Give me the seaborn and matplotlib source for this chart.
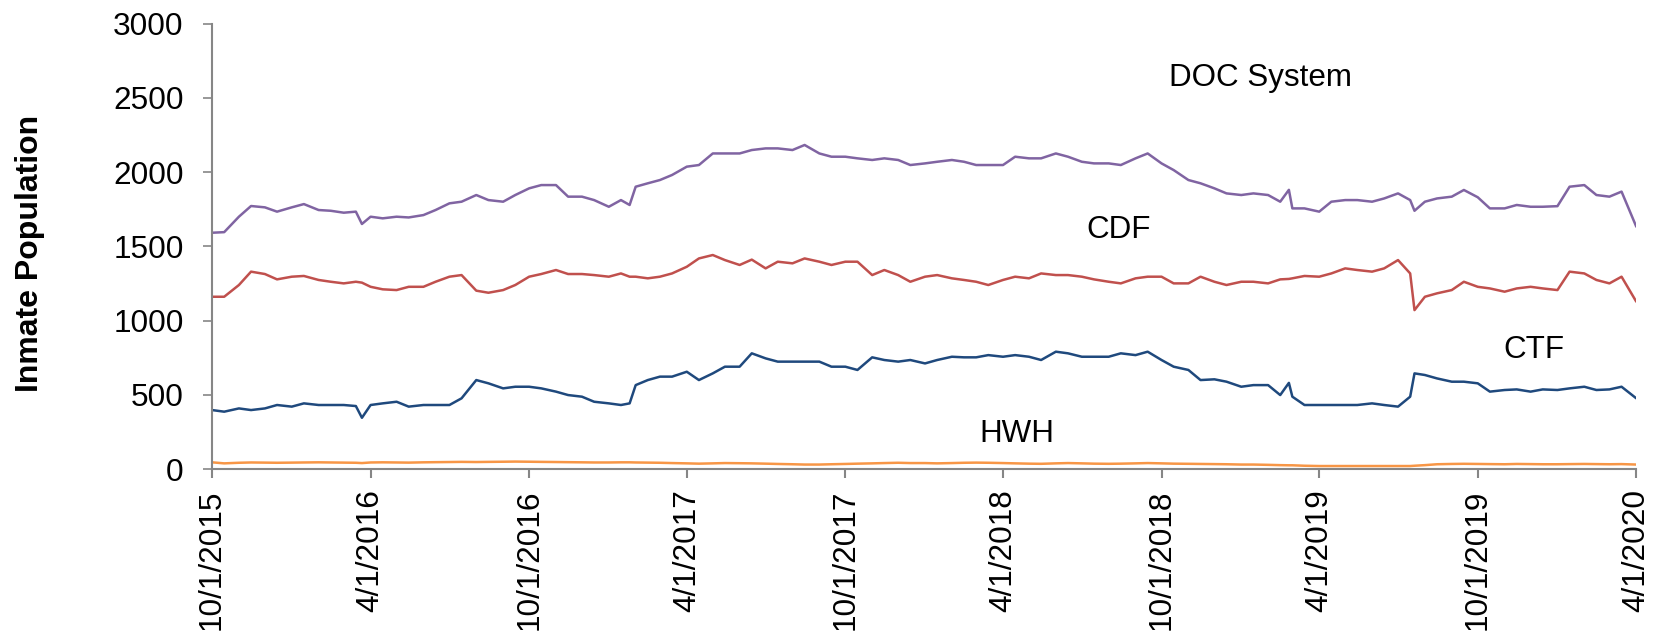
import pandas as pd
import seaborn as sns
import matplotlib
matplotlib.use("Agg")
import matplotlib.pyplot as plt

# semi-monthly readings, plus a few extra days where the lines jump
dates = [
    "2015-10-01", "2015-10-15", "2015-11-01", "2015-11-15", "2015-12-01", "2015-12-15",
    "2016-01-01", "2016-01-15", "2016-02-01", "2016-02-15", "2016-03-01", "2016-03-15", "2016-03-22",
    "2016-04-01", "2016-04-15", "2016-05-01", "2016-05-15", "2016-06-01", "2016-06-15",
    "2016-07-01", "2016-07-15", "2016-08-01", "2016-08-15", "2016-09-01", "2016-09-15",
    "2016-10-01", "2016-10-15", "2016-11-01", "2016-11-15", "2016-12-01", "2016-12-15",
    "2017-01-01", "2017-01-15", "2017-01-25", "2017-02-01", "2017-02-15", "2017-03-01", "2017-03-15",
    "2017-04-01", "2017-04-15", "2017-05-01", "2017-05-15", "2017-06-01", "2017-06-15",
    "2017-07-01", "2017-07-15", "2017-08-01", "2017-08-15", "2017-09-01", "2017-09-15",
    "2017-10-01", "2017-10-15", "2017-11-01", "2017-11-15", "2017-12-01", "2017-12-15",
    "2018-01-01", "2018-01-15", "2018-02-01", "2018-02-15", "2018-03-01", "2018-03-15",
    "2018-04-01", "2018-04-15", "2018-05-01", "2018-05-15", "2018-06-01", "2018-06-15",
    "2018-07-01", "2018-07-15", "2018-08-01", "2018-08-15", "2018-09-01", "2018-09-15",
    "2018-10-01", "2018-10-15", "2018-11-01", "2018-11-15", "2018-12-01", "2018-12-15",
    "2019-01-01", "2019-01-15", "2019-02-01", "2019-02-15", "2019-02-25", "2019-03-01", "2019-03-15",
    "2019-04-01", "2019-04-15", "2019-05-01", "2019-05-15", "2019-06-01", "2019-06-15",
    "2019-07-01", "2019-07-15", "2019-07-20", "2019-08-01", "2019-08-15", "2019-09-01", "2019-09-15",
    "2019-10-01", "2019-10-15", "2019-11-01", "2019-11-15", "2019-12-01", "2019-12-15",
    "2020-01-01", "2020-01-15", "2020-02-01", "2020-02-15", "2020-03-01", "2020-03-15", "2020-04-01",
]

doc_system = [
    1591, 1595, 1699, 1771, 1762, 1733,
    1762, 1784, 1744, 1739, 1726, 1733, 1650,
    1699, 1688, 1699, 1694, 1710, 1744,
    1789, 1800, 1845, 1811, 1800, 1845,
    1890, 1912, 1912, 1834, 1834, 1811,
    1766, 1811, 1778, 1901, 1924, 1946, 1980,
    2036, 2047, 2125, 2125, 2125, 2148,
    2159, 2159, 2148, 2182, 2125, 2103,
    2103, 2092, 2081, 2092, 2081, 2047,
    2058, 2069, 2081, 2069, 2047, 2047,
    2047, 2103, 2092, 2092, 2125, 2103,
    2069, 2058, 2058, 2047, 2092, 2125,
    2058, 2013, 1946, 1924, 1890, 1856,
    1845, 1856, 1845, 1800, 1880, 1755, 1755,
    1733, 1800, 1811, 1811, 1800, 1822,
    1856, 1811, 1739, 1800, 1822, 1834, 1879,
    1830, 1755, 1755, 1778, 1766, 1766,
    1770, 1901, 1912, 1845, 1834, 1868, 1632,
]

cdf = [
    1160, 1160, 1239, 1329, 1313, 1277,
    1295, 1300, 1273, 1261, 1250, 1261, 1255,
    1227, 1210, 1205, 1227, 1227, 1261,
    1295, 1306, 1201, 1187, 1205, 1239,
    1295, 1313, 1340, 1313, 1313, 1306,
    1295, 1317, 1295, 1295, 1284, 1295, 1317,
    1362, 1418, 1441, 1407, 1374, 1410,
    1351, 1396, 1385, 1418, 1396, 1374,
    1396, 1396, 1306, 1340, 1306, 1261,
    1295, 1306, 1284, 1273, 1261, 1239,
    1273, 1295, 1284, 1317, 1306, 1306,
    1295, 1277, 1261, 1250, 1284, 1295,
    1295, 1250, 1250, 1295, 1261, 1239,
    1261, 1261, 1250, 1277, 1280, 1284, 1300,
    1295, 1317, 1351, 1340, 1329, 1351,
    1407, 1317, 1070, 1160, 1183, 1205, 1261,
    1227, 1216, 1194, 1216, 1227, 1216,
    1205, 1329, 1317, 1273, 1250, 1295, 1127,
]

ctf = [
    397, 386, 408, 397, 408, 431,
    420, 442, 431, 431, 431, 424, 345,
    431, 442, 453, 420, 431, 431,
    431, 476, 599, 577, 543, 554,
    554, 543, 521, 498, 487, 453,
    442, 431, 442, 565, 599, 622, 622,
    655, 599, 644, 689, 689, 779,
    745, 723, 723, 723, 723, 689,
    689, 667, 752, 734, 723, 734,
    711, 734, 756, 752, 752, 767,
    756, 767, 756, 734, 790, 779,
    756, 756, 756, 779, 767, 790,
    734, 689, 667, 599, 604, 588,
    554, 565, 565, 498, 580, 487, 431,
    431, 431, 431, 431, 442, 431,
    420, 487, 644, 633, 610, 588, 588,
    577, 521, 532, 536, 521, 536,
    532, 543, 554, 532, 536, 554, 476,
]

hwh = [
    45, 38, 42, 44, 43, 42,
    43, 44, 45, 44, 43, 42, 40,
    44, 45, 44, 43, 45, 46,
    47, 48, 47, 48, 49, 50,
    49, 48, 47, 46, 45, 44,
    44, 45, 45, 44, 43, 42, 40,
    38, 36, 38, 40, 39, 38,
    36, 34, 32, 30, 30, 32,
    34, 36, 38, 40, 42, 40,
    40, 38, 40, 42, 43, 42,
    40, 38, 36, 35, 38, 40,
    38, 36, 35, 36, 38, 40,
    38, 36, 35, 34, 33, 32,
    30, 30, 28, 26, 25, 25, 22,
    20, 20, 20, 20, 20, 20,
    20, 20, 22, 26, 32, 34, 35,
    34, 33, 32, 34, 33, 32,
    32, 33, 34, 33, 32, 33, 30,
]

series_names = ["DOC System", "CDF", "CTF", "HWH"]
series_colors = ["#8064A2", "#C0504D", "#1F497D", "#F79646"]

xtick_labels = ["10/1/2015", "4/1/2016", "10/1/2016", "4/1/2017", "10/1/2017",
                "4/1/2018", "10/1/2018", "4/1/2019", "10/1/2019", "4/1/2020"]
yticks = [0, 500, 1000, 1500, 2000, 2500, 3000]

# label positions (date, value)
label_dates = ["2019-01-23", "2018-08-12", "2019-12-05", "2018-04-17"]
label_values = [2579, 1556, 747, 182]

df = pd.DataFrame({"date": pd.to_datetime(dates), "DOC System": doc_system,
                   "CDF": cdf, "CTF": ctf, "HWH": hwh})
long_df = df.melt(id_vars="date", var_name="facility", value_name="population")

sns.set_style("white")
plt.rcParams["font.family"] = ["Liberation Sans", "DejaVu Sans"]
plt.rcParams["text.color"] = "black"
plt.rcParams["axes.labelcolor"] = "black"
plt.rcParams["xtick.labelcolor"] = "black"
plt.rcParams["ytick.labelcolor"] = "black"

fig = plt.figure(figsize=(16.58, 6.32), dpi=100)
ax = fig.add_axes([0.1279, 0.2579, 0.8590, 0.7049])

sns.lineplot(data=long_df, x="date", y="population", hue="facility",
             hue_order=series_names, palette=series_colors,
             linewidth=1.8, legend=False, ax=ax)

for name, d, v in zip(series_names, label_dates, label_values):
    ax.text(pd.Timestamp(d), v, name, fontsize=22.6, ha="center", va="baseline")

xt = pd.to_datetime(xtick_labels, format="%m/%d/%Y")
ax.set_xlim(xt[0], xt[-1])
ax.set_xticks(xt)
ax.set_xticklabels(xtick_labels, rotation=90, fontsize=22.7)
ax.set_ylim(0, 3000)
ax.set_yticks(yticks)
ax.set_yticklabels([str(v) for v in yticks], fontsize=22.7)

ax.set_xlabel("")
ax.set_ylabel("Inmate Population", fontsize=23, fontweight="bold")
ax.yaxis.set_label_coords(-0.117, 0.484)

for side in ["top", "right"]:
    ax.spines[side].set_visible(False)
for side in ["left", "bottom"]:
    ax.spines[side].set_color("#868686")
    ax.spines[side].set_linewidth(1.5)

ax.tick_params(axis="y", direction="out", length=6.5, width=1.2, color="#868686", pad=14, left=True)
ax.tick_params(axis="x", direction="out", length=6.5, width=1.5, color="#868686", pad=8, bottom=True)

fig.savefig("out.png", dpi=100)
